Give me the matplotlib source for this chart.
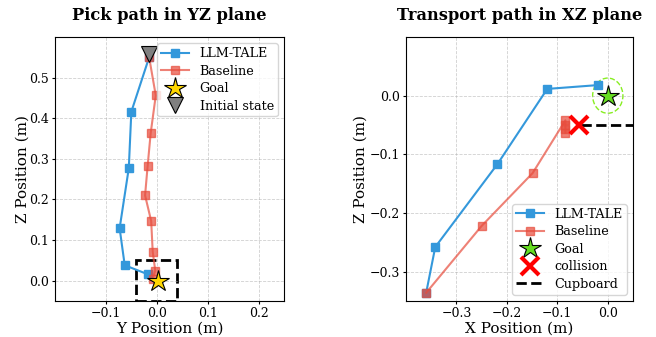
import matplotlib
matplotlib.use("Agg")
import matplotlib.pyplot as plt
from matplotlib.patches import Rectangle, Circle

plt.rcParams['font.family'] = 'DejaVu Serif'
plt.rcParams['font.size'] = 9

# pick path (YZ plane)
pick_tale_y = [-0.015, -0.05, -0.055, -0.073, -0.063, -0.018]
pick_tale_z = [0.55, 0.416, 0.277, 0.129, 0.038, 0.016]
pick_base_y = [-0.015, -0.002, -0.012, -0.018, -0.023, -0.011, -0.008, -0.003, -0.008]
pick_base_z = [0.55, 0.456, 0.363, 0.282, 0.21, 0.147, 0.071, 0.025, 0.005]
pick_goal = (0.003, 0.0)
pick_init = (-0.015, 0.557)
pick_box = (-0.04, -0.05, 0.08, 0.1)  # x, y, w, h

# transport path (XZ plane)
trans_tale_x = [-0.36, -0.342, -0.219, -0.12, -0.02]
trans_tale_z = [-0.336, -0.258, -0.117, 0.0115, 0.018]
trans_base_x = [-0.36, -0.25, -0.149, -0.084, -0.084, -0.084, -0.084]
trans_base_z = [-0.336, -0.222, -0.132, -0.042, -0.05, -0.057, -0.063]
trans_goal = (0.0, 0.0)
collision = (-0.058, -0.05)
cupboard_x = [-0.054, 0.05]
cupboard_z = [-0.05, -0.05]

blue = '#3498db'
red = '#e74c3c'

fig = plt.figure(figsize=(6.56, 3.37), dpi=100)
ax1 = fig.add_axes([55/656, 1-301/337, 229/656, 264/337])
ax2 = fig.add_axes([406/656, 1-301/337, 227/656, 264/337])

# left
ax1.plot(pick_tale_y, pick_tale_z, '-s', color=blue, lw=1.5, ms=6, label='LLM-TALE')
ax1.plot(pick_base_y, pick_base_z, '-s', color=red, alpha=0.7, lw=1.5, ms=6, label='Baseline')
ax1.plot(*pick_goal, marker='*', color='gold', mec='black', mew=0.8, ms=16, ls='none', label='Goal', zorder=5)
ax1.plot(*pick_init, marker='v', color='gray', mec='black', mew=0.8, ms=12, ls='none', label='Initial state', zorder=4)
ax1.add_patch(Rectangle(pick_box[:2], pick_box[2], pick_box[3], fill=False, ec='black', ls='--', lw=2))
ax1.set_xlim(-0.2, 0.25)
ax1.set_ylim(-0.05, 0.6)
ax1.set_xticks([-0.1, 0.0, 0.1, 0.2])
ax1.set_yticks([0.0, 0.1, 0.2, 0.3, 0.4, 0.5])
ax1.tick_params(length=2, pad=2.5, labelsize=9)
ax1.grid(True, ls='--', lw=0.6, alpha=0.6)
ax1.set_xlabel('Y Position (m)', fontsize=11, labelpad=1)
ax1.set_ylabel('Z Position (m)', fontsize=11)
ax1.yaxis.set_label_coords(-0.112, 0.5)
ax1.set_title('Pick path in YZ plane', fontweight='bold', fontsize=11.7, pad=12)
ax1.legend(loc='upper right', fontsize=9.2, handlelength=2.2, borderpad=0.3, labelspacing=0.35)

# right
ax2.plot(trans_tale_x, trans_tale_z, '-s', color=blue, lw=1.5, ms=6, label='LLM-TALE')
ax2.plot(trans_base_x, trans_base_z, '-s', color=red, alpha=0.7, lw=1.5, ms=6, label='Baseline')
ax2.plot(*trans_goal, marker='*', color='#66dd22', mec='black', mew=0.8, ms=16, ls='none', label='Goal', zorder=5)
ax2.plot(*collision, marker='x', color='red', mew=3, ms=13, ls='none', label='collision', zorder=5)
ax2.plot(cupboard_x, cupboard_z, '--', color='black', lw=2, label='Cupboard')
ax2.add_patch(Circle(trans_goal, 0.03, fill=False, ec='#88ee22', ls='--', lw=1))
ax2.set_xlim(-0.4, 0.05)
ax2.set_ylim(-0.35, 0.1)
ax2.set_xticks([-0.3, -0.2, -0.1, 0.0])
ax2.set_yticks([-0.3, -0.2, -0.1, 0.0])
ax2.tick_params(length=2, pad=2.5, labelsize=9)
ax2.grid(True, ls='--', lw=0.6, alpha=0.6)
ax2.set_xlabel('X Position (m)', fontsize=11, labelpad=1)
ax2.set_ylabel('Z Position (m)', fontsize=11)
ax2.yaxis.set_label_coords(-0.167, 0.5)
ax2.set_title('Transport path in XZ plane', fontweight='bold', fontsize=11.7, pad=12)
ax2.legend(loc='lower right', fontsize=9.2, handlelength=2.2, borderpad=0.3, labelspacing=0.35)

plt.savefig('out.png', dpi=100)
